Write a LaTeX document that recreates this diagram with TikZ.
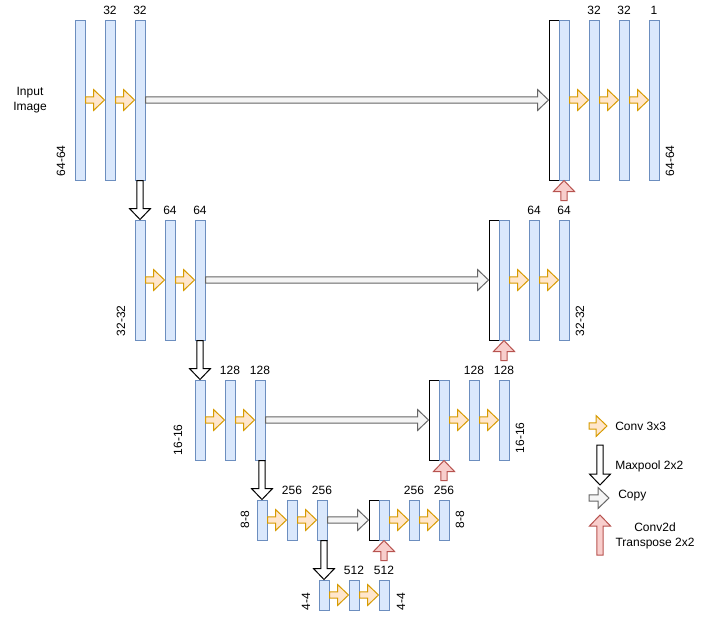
\documentclass[tikz,border=0pt]{standalone}
\usepackage{fontspec}
\setmainfont{Liberation Sans}
\usepackage{xcolor}
\usepackage{tikz}
\usetikzlibrary{positioning, calc}

\definecolor{barfill}{HTML}{DAE8FC}
\definecolor{barline}{HTML}{6C8EBF}
\definecolor{convfill}{HTML}{FFE6CC}
\definecolor{convline}{HTML}{D79B00}
\definecolor{upfill}{HTML}{F8CECC}
\definecolor{upline}{HTML}{B85450}
\definecolor{copyfill}{HTML}{F5F5F5}
\definecolor{copyline}{HTML}{666666}

\newcommand{\labelfont}{\fontsize{9}{11.25}\selectfont}
% block arrow from #2 to #3 in style #1
\newcommand{\flexarrow}[3]{%
  \coordinate (fa-s) at #2;
  \coordinate (fa-e) at #3;
  \coordinate (fa-h) at ($(fa-e)!8.25pt!(fa-s)$);
  \draw[#1] ($(fa-s)!2.4pt!90:(fa-e)$) -- ($(fa-h)!2.4pt!90:(fa-e)$)
    -- ($(fa-h)!7.9pt!90:(fa-e)$) -- (fa-e) -- ($(fa-h)!7.9pt!-90:(fa-e)$)
    -- ($(fa-h)!2.4pt!-90:(fa-e)$) -- ($(fa-s)!2.4pt!-90:(fa-e)$) -- cycle;}

\begin{document}
\begin{tikzpicture}[x=0.75pt, y=-0.75pt,
    bar node/.style={draw=barline, fill=barfill, line width=0.75pt, inner sep=0pt, minimum width=7.5pt},
    skip node/.style={draw=black, fill=white, line width=0.75pt, inner sep=0pt, minimum width=7.5pt},
    size label/.style={inner sep=0pt, font=\labelfont},
    dim label/.style={inner sep=0pt, rotate=90, font=\labelfont},
    conv arrow/.style={draw=convline, fill=convfill, line width=0.75pt},
    pool arrow/.style={draw=black, fill=white, line width=0.75pt},
    copy arrow/.style={draw=copyline, fill=copyfill, line width=0.75pt},
    up arrow/.style={draw=upline, fill=upfill, line width=0.75pt}
]
\useasboundingbox (0,0) rectangle (701,622);

% level 1
\node[bar node, minimum height=120pt] (e11) at (80,100) {};
\node[bar node, minimum height=120pt] (e12) at (110,100) {};
\node[bar node, minimum height=120pt] (e13) at (140,100) {};
\node[skip node, minimum height=120pt] (c1) at (554,100) {};
\node[bar node, minimum height=120pt] (d11) at (564,100) {};
\node[bar node, minimum height=120pt] (d12) at (594,100) {};
\node[bar node, minimum height=120pt] (d13) at (624,100) {};
\node[bar node, minimum height=120pt] (d14) at (654,100) {};

% level 2
\node[bar node, minimum height=90pt] (e21) at (140,280) {};
\node[bar node, minimum height=90pt] (e22) at (170,280) {};
\node[bar node, minimum height=90pt] (e23) at (200,280) {};
\node[skip node, minimum height=90pt] (c2) at (494,280) {};
\node[bar node, minimum height=90pt] (d21) at (504,280) {};
\node[bar node, minimum height=90pt] (d22) at (534,280) {};
\node[bar node, minimum height=90pt] (d23) at (564,280) {};

% level 3
\node[bar node, minimum height=60pt] (e31) at (200,420) {};
\node[bar node, minimum height=60pt] (e32) at (230,420) {};
\node[bar node, minimum height=60pt] (e33) at (260,420) {};
\node[skip node, minimum height=60pt] (c3) at (434,420) {};
\node[bar node, minimum height=60pt] (d31) at (444,420) {};
\node[bar node, minimum height=60pt] (d32) at (474,420) {};
\node[bar node, minimum height=60pt] (d33) at (504,420) {};

% level 4
\node[bar node, minimum height=30pt] (e41) at (262,520) {};
\node[bar node, minimum height=30pt] (e42) at (292,520) {};
\node[bar node, minimum height=30pt] (e43) at (322,520) {};
\node[skip node, minimum height=30pt] (c4) at (374,520) {};
\node[bar node, minimum height=30pt] (d41) at (384,520) {};
\node[bar node, minimum height=30pt] (d42) at (414,520) {};
\node[bar node, minimum height=30pt] (d43) at (444,520) {};

% level 5
\node[bar node, minimum height=22.5pt] (e51) at (324,595) {};
\node[bar node, minimum height=22.5pt] (e52) at (354,595) {};
\node[bar node, minimum height=22.5pt] (e53) at (384,595) {};

% channel counts
\node[size label, above=3.75pt of e12] {32};
\node[size label, above=3.75pt of e13] {32};
\node[size label, above=3.75pt of d12] {32};
\node[size label, above=3.75pt of d13] {32};
\node[size label, above=3.75pt of d14] {1};
\node[size label, above=3.75pt of e22] {64};
\node[size label, above=3.75pt of e23] {64};
\node[size label, above=3.75pt of d22] {64};
\node[size label, above=3.75pt of d23] {64};
\node[size label, above=3.75pt of e32] {128};
\node[size label, above=3.75pt of e33] {128};
\node[size label, above=3.75pt of d32] {128};
\node[size label, above=3.75pt of d33] {128};
\node[size label, above=3.75pt of e42] {256};
\node[size label, above=3.75pt of e43] {256};
\node[size label, above=3.75pt of d42] {256};
\node[size label, above=3.75pt of d43] {256};
\node[size label, above=3.75pt of e52] {512};
\node[size label, above=3.75pt of e53] {512};

% image sizes
\node[dim label, anchor=south west] (s1l) at ($(e11.south west)+(-9,-4)$) {64-64};
\node[dim label, anchor=north west] (s1r) at ($(d14.south east)+(6,-4)$) {64-64};
\node[dim label, anchor=south west] (s2l) at ($(e21.south west)+(-9,-4)$) {32-32};
\node[dim label, anchor=north west] (s2r) at ($(d23.south east)+(6,-4)$) {32-32};
\node[dim label, anchor=south west] (s3l) at ($(e31.south west)+(-12,-5)$) {16-16};
\node[dim label, anchor=north west] (s3r) at ($(d33.south east)+(6,-7)$) {16-16};
\node[dim label, anchor=south west] (s4l) at ($(e41.south west)+(-7,-12)$) {8-8};
\node[dim label, anchor=north west] (s4r) at ($(d43.south east)+(6,-12)$) {8-8};
\node[dim label, anchor=south west] (s5l) at ($(e51.south west)+(-8,0)$) {4-4};
\node[dim label, anchor=north west] (s5r) at ($(e53.south east)+(7,0)$) {4-4};

\node[size label, align=center] (input) at (30,100) {Input\\Image};

% conv 3x3
\flexarrow{conv arrow}{(e11.east)}{(e12.west)}
\flexarrow{conv arrow}{(e12.east)}{(e13.west)}
\flexarrow{conv arrow}{(d11.east)}{(d12.west)}
\flexarrow{conv arrow}{(d12.east)}{(d13.west)}
\flexarrow{conv arrow}{(d13.east)}{(d14.west)}
\flexarrow{conv arrow}{(e21.east)}{(e22.west)}
\flexarrow{conv arrow}{(e22.east)}{(e23.west)}
\flexarrow{conv arrow}{(d21.east)}{(d22.west)}
\flexarrow{conv arrow}{(d22.east)}{(d23.west)}
\flexarrow{conv arrow}{(e31.east)}{(e32.west)}
\flexarrow{conv arrow}{(e32.east)}{(e33.west)}
\flexarrow{conv arrow}{(d31.east)}{(d32.west)}
\flexarrow{conv arrow}{(d32.east)}{(d33.west)}
\flexarrow{conv arrow}{(e41.east)}{(e42.west)}
\flexarrow{conv arrow}{(e42.east)}{(e43.west)}
\flexarrow{conv arrow}{(d41.east)}{(d42.west)}
\flexarrow{conv arrow}{(d42.east)}{(d43.west)}
\flexarrow{conv arrow}{(e51.east)}{(e52.west)}
\flexarrow{conv arrow}{(e52.east)}{(e53.west)}

% copy
\flexarrow{copy arrow}{(e13.east)}{(c1.west)}
\flexarrow{copy arrow}{(e23.east)}{(c2.west)}
\flexarrow{copy arrow}{(e33.east)}{(c3.west)}
\flexarrow{copy arrow}{(e43.east)}{(c4.west)}

% maxpool
\flexarrow{pool arrow}{(e13.south)}{(e21.north)}
\flexarrow{pool arrow}{(e23.south)}{(e31.north)}
\flexarrow{pool arrow}{(e41.north |- e33.south)}{(e41.north)}
\flexarrow{pool arrow}{(e51.north |- e43.south)}{(e51.north)}

% transpose conv
\coordinate (t1) at ($(d11.south)+(0,20)$);
\coordinate (t2) at ($(d21.south)+(0,20)$);
\coordinate (t3) at ($(d31.south)+(0,20)$);
\coordinate (t4) at ($(d41.south)+(0,20)$);
\flexarrow{up arrow}{(t1)}{(d11.south)}
\flexarrow{up arrow}{(t2)}{(d21.south)}
\flexarrow{up arrow}{(t3)}{(d31.south)}
\flexarrow{up arrow}{(t4)}{(d41.south)}

% legend
\coordinate (kconv-s) at (589,426);
\coordinate (kconv-e) at (607,426);
\coordinate (kpool-s) at (600,445);
\coordinate (kpool-e) at (600,485);
\coordinate (kcopy-s) at (589,498);
\coordinate (kcopy-e) at (609,498);
\coordinate (kup-s) at (600,555);
\coordinate (kup-e) at (600,515);
\flexarrow{conv arrow}{(kconv-s)}{(kconv-e)}
\flexarrow{pool arrow}{(kpool-s)}{(kpool-e)}
\flexarrow{copy arrow}{(kcopy-s)}{(kcopy-e)}
\flexarrow{up arrow}{(kup-s)}{(kup-e)}
\node[size label, anchor=west] (kconv) at (615,426) {Conv 3x3};
\node[size label, anchor=west] (kpool) at (615,466) {Maxpool 2x2};
\node[size label, anchor=west] (kcopy) at (618,496) {Copy};
\node[size label, align=center] (kup) at (655,536) {Conv2d\\Transpose 2x2};

\end{tikzpicture}
\end{document}
